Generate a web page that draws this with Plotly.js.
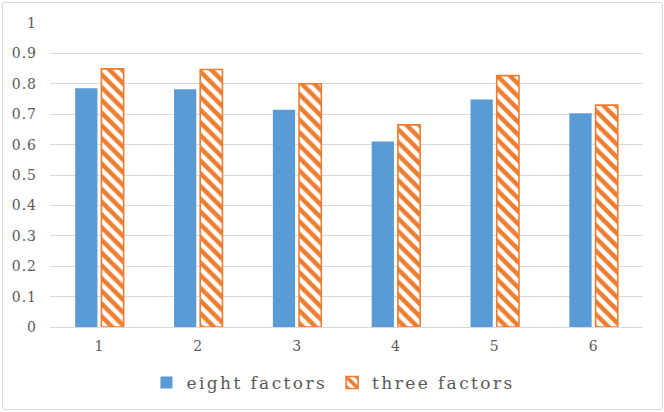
<!DOCTYPE html>
<html>
<head>
<meta charset="utf-8">
<script src="https://cdn.plot.ly/plotly-3.0.1.min.js"></script>
<style>
  html, body { margin: 0; padding: 0; background: #ffffff; }
  #wrap { position: relative; width: 664px; height: 412px; }
  #chart { position: absolute; left: 0; top: 0; width: 664px; height: 412px; }
  #frame { position: absolute; left: 2px; top: 2px; width: 659px; height: 406px;
           border: 1px solid #d9d9d9; border-radius: 3px; pointer-events: none; }
  .legendtext { letter-spacing: 2.4px; }
  .ytick text, .xtick text { letter-spacing: 1px; }
</style>
</head>
<body>
<div id="wrap"><div id="chart"></div><div id="frame"></div></div>
<script>
const categories = ["1", "2", "3", "4", "5", "6"];
const eightFactors = [0.785, 0.782, 0.715, 0.610, 0.748, 0.703];
const threeFactors = [0.849, 0.847, 0.800, 0.665, 0.827, 0.730];
const yTickValues = [0, 0.1, 0.2, 0.3, 0.4, 0.5, 0.6, 0.7, 0.8, 0.9, 1];
const yTickLabels = ["0", "0.1", "0.2", "0.3", "0.4", "0.5", "0.6", "0.7", "0.8", "0.9", "1"];

const FONT = "'DejaVu Serif', 'Liberation Serif', serif";

const traces = [
  {
    type: "bar",
    name: "eight factors",
    x: categories,
    y: eightFactors,
    marker: { color: "#5b9bd5", line: { width: 0 } },
    hoverinfo: "x+y"
  },
  {
    type: "bar",
    name: "three factors",
    x: categories,
    y: threeFactors,
    marker: {
      color: "#ffffff",
      line: { color: "#ed7d31", width: 1.6 },
      pattern: { shape: "\\", fgcolor: "#ed7d31", bgcolor: "#ffffff", size: 9, solidity: 0.5 }
    },
    hoverinfo: "x+y"
  }
];

const layout = {
  width: 664,
  height: 412,
  margin: { l: 50, r: 21, t: 23, b: 84 },
  paper_bgcolor: "#ffffff",
  plot_bgcolor: "#ffffff",
  barmode: "group",
  bargap: 0.47,
  bargroupgap: 0.15,
  font: { family: FONT, color: "#595959", size: 14 },
  xaxis: {
    type: "category",
    showgrid: false,
    showline: true,
    linecolor: "#d9d9d9",
    linewidth: 1,
    ticks: "",
    ticklabelstandoff: 6,
    tickfont: { family: FONT, size: 14, color: "#595959" },
    fixedrange: true
  },
  yaxis: {
    range: [0, 1],
    tickvals: yTickValues,
    ticktext: yTickLabels,
    showgrid: true,
    gridcolor: "#d9d9d9",
    gridwidth: 1,
    zeroline: false,
    showline: false,
    ticks: "",
    ticklabelstandoff: 12,
    tickfont: { family: FONT, size: 14, color: "#595959" },
    fixedrange: true
  },
  showlegend: true,
  legend: {
    orientation: "h",
    x: 0.478,
    xanchor: "center",
    y: -0.18,
    yanchor: "middle",
    font: { family: FONT, size: 17, color: "#595959" },
    itemwidth: 30,
    traceorder: "normal"
  }
};

Plotly.newPlot("chart", traces, layout, { displayModeBar: false, staticPlot: true });
</script>
</body>
</html>
